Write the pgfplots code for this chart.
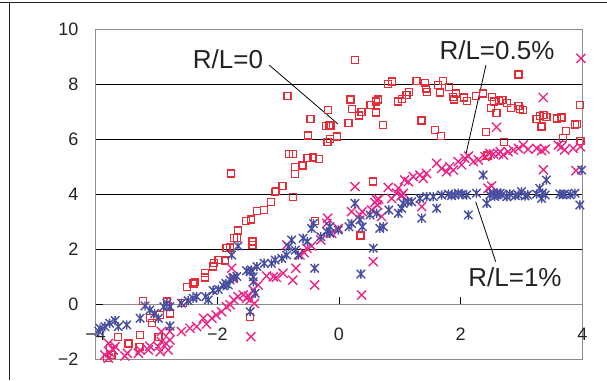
\documentclass[border=0pt]{standalone}
\usepackage{pgfplots}
\pgfplotsset{compat=1.18}
\usepackage{fontspec}
\setmainfont{Liberation Sans}
\definecolor{sqred}{RGB}{228,45,55}
\definecolor{xmag}{RGB}{232,40,135}
\definecolor{stblue}{RGB}{72,78,160}
\definecolor{framegray}{RGB}{140,140,140}
\definecolor{txt}{RGB}{35,35,35}
\pgfdeclareplotmark{xstar}{%
  \pgfpathmoveto{\pgfpoint{-\pgfplotmarksize}{-\pgfplotmarksize}}%
  \pgfpathlineto{\pgfpoint{\pgfplotmarksize}{\pgfplotmarksize}}%
  \pgfpathmoveto{\pgfpoint{-\pgfplotmarksize}{\pgfplotmarksize}}%
  \pgfpathlineto{\pgfpoint{\pgfplotmarksize}{-\pgfplotmarksize}}%
  \pgfpathmoveto{\pgfpoint{0pt}{-1.1\pgfplotmarksize}}%
  \pgfpathlineto{\pgfpoint{0pt}{1.1\pgfplotmarksize}}%
  \pgfusepathqstroke}
\begin{document}
\begin{tikzpicture}
\path[use as bounding box] (0,0) rectangle (607pt,380pt);
\draw[line width=1.2pt, txt] (0pt,377.3pt) -- (607pt,377.3pt);
\draw[line width=1.2pt, txt] (9.3pt,377.3pt) -- (9.3pt,0pt);
\begin{axis}[
  at={(95.7pt,20.7pt)}, anchor=south west,
  scale only axis, width=486.6pt, height=330pt,
  xmin=-4, xmax=4, ymin=-2, ymax=10,
  clip=false, axis on top,
  axis line style={draw=framegray, line width=1.1pt},
  xtick={-4,-2,0,2,4}, xticklabels={−4,−2,0,2,4},
  ytick={-2,0,2,4,6,8,10}, yticklabels={−2,0,2,4,6,8,10},
  ytick pos=left, xtick pos=bottom,
  tick align=inside,
  xtick style={draw=none},
  ytick style={draw=black, line width=0.9pt},
  major tick length=7pt,
  xticklabel style={anchor=center, yshift=25.3pt, font=\fontsize{18}{18}\selectfont, text=txt},
  yticklabel style={anchor=east, inner sep=0pt, xshift=-17pt, font=\fontsize{18}{18}\selectfont, text=txt},
]
\draw[black, line width=0.9pt] (axis cs:-4,2) -- (axis cs:4,2);
\draw[black, line width=0.9pt] (axis cs:-4,4) -- (axis cs:4,4);
\draw[black, line width=0.9pt] (axis cs:-4,6) -- (axis cs:4,6);
\draw[black, line width=0.9pt] (axis cs:-4,8) -- (axis cs:4,8);
\draw[framegray, line width=1.1pt] (axis cs:-4,0) -- (axis cs:4,0);
\draw[black, line width=0.9pt] (axis cs:-2,0) -- ([yshift=7pt]axis cs:-2,0);
\draw[black, line width=0.9pt] (axis cs:0,0) -- ([yshift=7pt]axis cs:0,0);
\draw[black, line width=0.9pt] (axis cs:2,0) -- ([yshift=7pt]axis cs:2,0);
\draw[black, line width=0.9pt] (axis cs:4,0) -- ([yshift=7pt]axis cs:4,0);

% R/L=0
\addplot[only marks, mark=square, mark size=3.5pt, mark options={draw=sqred, line width=1.3pt}] coordinates {
(-3.22,0.13) (-2.83,0.10) (-2.57,0.04) (-3.11,-0.51) (-3.08,-0.69) (-2.94,-0.39)
(-2.97,-1.18) (-3.27,-1.12) (-3.63,-1.18) (-3.46,-1.42) (-3.28,-1.54) (-3.77,-1.60)
(-3.74,-1.84) (-3.82,-1.96) (-2.78,-0.33) (-2.82,-0.06) (-2.50,0.62) (-2.39,0.76)
(-2.37,0.82) (-2.20,0.98) (-2.20,1.15) (-2.07,1.37) (-2.06,1.49) (-1.98,1.61)
(-1.875,1.59) (-1.85,2.04) (-1.79,2.06) (-1.73,2.40) (-1.68,2.42) (-1.66,2.68)
(-1.53,3.04) (-1.45,3.08) (-1.42,2.28) (-1.42,2.16) (-1.46,-0.45) (-1.35,3.39)
(-1.23,3.43) (-1.12,3.73) (-1.04,4.12) (-1.05,4.08) (-0.93,4.30) (-0.76,3.90)
(-0.72,4.74) (-0.395,3.04) (0.355,2.50) (0.564,4.46) (0.262,8.88) (-0.845,7.57)
(-0.176,7.07) (-0.467,6.75) (-0.21,6.48) (-0.17,6.50) (-0.14,6.50) (-0.51,6.14)
(-0.028,6.10) (-0.15,6.02) (-0.19,5.90) (0.158,6.60) (0.19,7.45) (0.213,7.10)
(0.37,7.00) (0.33,6.86) (0.52,7.25) (0.607,7.37) (0.645,7.45) (0.607,6.97)
(-0.817,5.47) (-0.76,5.47) (-0.52,5.33) (-0.43,5.34) (-0.324,5.28) (-0.598,5.05)
(-0.72,5.00) (-1.78,4.76) (0.728,6.52) (0.81,8.01) (0.876,8.10) (0.975,7.37)
(1.03,7.47) (1.11,7.61) (1.155,7.73) (1.276,8.13) (1.413,8.04) (1.43,7.85)
(1.45,7.73) (1.358,6.68) (1.577,6.34) (1.676,6.12) (1.632,7.98) (1.714,8.13)
(1.66,7.70) (1.813,7.89) (1.879,7.55) (1.89,7.45) (1.92,7.67) (2.06,7.52)
(2.11,7.39) (2.25,7.58) (2.37,7.67) (2.416,6.26) (2.52,7.53) (2.55,7.37)
(2.50,7.13) (2.59,6.95) (2.635,7.41) (2.69,7.43) (2.76,7.31) (2.83,7.13)
(2.71,5.91) (2.95,8.36) (2.95,7.21) (2.975,7.09) (3.03,7.07) (3.249,6.73)
(3.30,6.85) (3.36,6.88) (3.41,6.80) (3.33,6.46) (3.58,6.76) (3.66,6.79)
(3.73,6.30) (3.68,6.04) (3.88,6.54) (3.91,6.56) (3.96,7.25) (3.97,5.94)
(2.44,5.41)
};

% R/L=0.5%
\addplot[only marks, mark=x, mark size=6.4pt, mark options={draw=xmag, line width=1.4pt}] coordinates {
(-3.85,-1.84) (-3.79,-1.96) (-3.77,-1.76) (-3.71,-1.66) (-3.68,-1.54) (-3.79,-1.42)
(-3.52,-1.88) (-3.48,-1.78) (-3.30,-1.78) (-3.27,-1.66) (-3.135,-1.66) (-3.11,-1.52)
(-2.97,-1.54) (-2.94,-1.72) (-2.92,-1.36) (-2.845,-1.42) (-2.81,-1.66) (-2.78,-1.30)
(-2.78,-0.99) (-2.92,-0.99) (-2.59,-0.99) (-2.45,-0.87) (-2.34,-0.81) (-2.23,-0.51)
(-2.18,-0.72) (-2.09,-0.51) (-2.02,-0.39) (-1.93,-0.27) (-1.85,-0.09) (-1.79,-0.02)
(-1.73,0.16) (-1.66,0.28) (-1.575,0.34) (-1.52,0.22) (-1.46,0.16) (-1.41,0.52)
(-1.765,1.31) (-1.74,0.94) (-1.45,-1.18) (-1.49,0.30) (-1.39,0.03) (-1.33,0.70)
(-1.19,1.03) (-1.08,1.00) (-1.03,0.98) (-0.92,1.13) (-0.76,0.88) (-0.71,1.31)
(-0.86,2.16) (-0.64,1.79) (-0.57,1.88) (-0.53,2.04) (-0.45,2.12) (-0.40,0.70)
(-0.30,2.34) (-0.187,3.13) (-0.20,2.94) (-0.12,2.58) (-0.012,2.76) (0.207,3.37)
(0.262,4.28) (0.344,3.25) (0.383,3.37) (0.564,1.55) (0.372,0.34) (0.536,3.43)
(0.59,3.70) (0.65,3.82) (0.635,3.61) (0.70,3.19) (0.81,4.25) (0.865,3.85)
(0.975,4.22) (1.02,3.94) (1.08,4.52) (1.058,4.035) (1.14,4.46) (1.22,4.64)
(1.33,4.70) (1.386,4.58) (1.44,4.76) (1.36,3.55) (1.605,5.13) (1.687,4.94)
(1.77,4.82) (1.82,5.00) (1.88,4.88) (1.96,5.19) (2.016,5.07) (2.07,5.31)
(2.13,5.39) (2.21,5.19) (2.29,5.25) (2.40,5.37) (2.48,5.49) (2.45,4.22)
(2.51,4.30) (2.65,5.55) (2.59,6.44) (3.358,7.52) (3.978,8.945) (2.54,5.47)
(2.62,5.47) (2.70,5.43) (2.78,5.55) (2.865,5.61) (2.95,5.67) (3.03,5.79)
(3.11,5.64) (3.25,5.67) (3.33,5.59) (3.39,5.64) (3.36,4.89) (3.605,5.79)
(3.66,5.73) (3.71,5.61) (3.85,5.67) (3.97,5.73) (3.895,4.86) (0.95,4.04)
(1.03,3.97) (0.62,3.79)
};

% R/L=1%
\addplot[only marks, mark=xstar, mark size=4.2pt, mark options={draw=stblue, line width=1.4pt}] coordinates {
(-3.93,-0.87) (-3.85,-0.81) (-3.77,-0.69) (-3.68,-0.59) (-3.63,-0.81) (-3.49,-0.75)
(-3.27,-0.51) (-3.19,-0.06) (-3.11,-0.21) (-3.03,-0.33) (-2.97,-0.51) (-2.88,-0.09)
(-2.83,0.04) (-2.78,-0.09) (-2.78,-0.79) (-2.59,0.04) (-2.48,0.13) (-2.40,0.22)
(-2.34,0.28) (-2.19,0.28) (-2.15,0.16) (-2.07,0.50) (-1.985,0.54) (-1.90,0.67)
(-1.86,0.76) (-1.79,0.88) (-1.73,0.98) (-1.68,1.01) (-1.82,0.70) (-1.765,1.79)
(-1.66,2.12) (-1.52,1.22) (-1.46,1.19) (-1.41,0.82) (-1.44,1.25) (-1.35,1.37)
(-1.41,1.00) (-1.38,0.40) (-1.46,-0.27) (-1.23,1.49) (-1.11,1.49) (-1.05,1.61)
(-0.94,1.67) (-0.86,1.79) (-0.78,2.34) (-0.83,2.10) (-0.72,1.97) (-0.67,1.79)
(-0.59,2.40) (-0.52,2.28) (-0.45,2.76) (-0.42,2.94) (-0.40,1.31) (-0.30,2.46)
(-0.20,2.64) (-0.15,2.58) (-0.15,2.82) (-0.012,2.70) (0.164,2.82) (0.207,2.94)
(0.262,3.67) (0.344,3.07) (0.383,2.82) (0.36,1.10) (0.564,2.04) (0.51,3.25)
(0.62,3.31) (0.67,2.76) (0.73,2.82) (0.82,3.43) (0.975,3.31) (1.03,3.49)
(1.13,3.73) (1.058,3.67) (1.194,3.73) (1.36,3.13) (1.33,3.85) (1.44,3.91)
(1.605,3.49) (1.55,3.91) (1.687,3.975) (1.80,4.01) (1.906,3.975) (1.96,4.04)
(2.098,3.975) (2.126,3.25) (2.26,4.04) (2.37,4.70) (2.43,3.67) (2.48,3.975)
(2.54,4.04) (2.59,3.975) (2.65,4.04) (2.76,3.91) (2.81,4.01) (2.95,3.975)
(3.00,4.10) (3.06,3.94) (3.25,4.01) (3.30,4.22) (3.33,3.85) (3.39,3.975)
(3.41,4.52) (3.63,4.01) (3.71,4.01) (3.88,4.04) (3.96,3.61) (3.99,4.88)
(-3.95,-0.98) (1.85,3.95) (2.02,4.00) (2.60,4.05) (2.68,3.98) (2.56,3.92)
(3.35,4.05) (3.68,3.98) (3.80,3.98) (3.10,3.98) (2.90,3.95)
};

\node[anchor=base, inner sep=0pt, font=\fontsize{26}{26}\selectfont, text=txt] at (axis cs:-1.825,8.58) {R/L=0};
\node[anchor=base, inner sep=0pt, font=\fontsize{26}{26}\selectfont, text=txt] at (axis cs:2.597,8.91) {R/L=0.5\%};
\node[anchor=base, inner sep=0pt, font=\fontsize{26}{26}\selectfont, text=txt] at (axis cs:2.893,0.665) {R/L=1\%};
\draw[black, line width=0.8pt] (axis cs:-1.148,8.70) -- (axis cs:-0.017,6.556);
\draw[black, line width=0.8pt] (axis cs:2.416,8.70) -- (axis cs:2.088,5.47);
\draw[black, line width=0.8pt] (axis cs:2.247,3.73) -- (axis cs:2.576,1.55);
\draw[black, line width=1.1pt] (axis cs:-4,-2) -- (axis cs:-4,10);
\end{axis}
\end{tikzpicture}
\end{document}
